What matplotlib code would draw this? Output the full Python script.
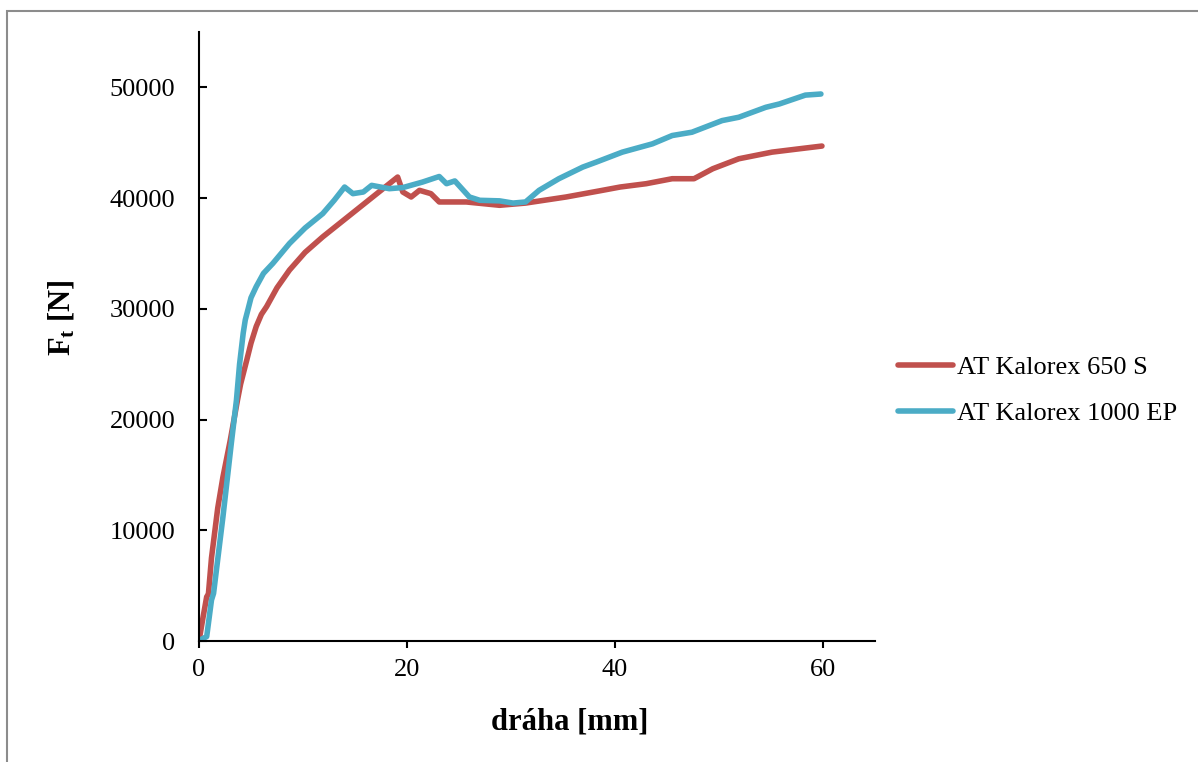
import matplotlib
matplotlib.use("Agg")
import matplotlib.pyplot as plt
from matplotlib.patches import Rectangle

plt.rcParams["font.family"] = ["Liberation Serif", "DejaVu Serif"]
plt.rcParams["mathtext.fontset"] = "custom"
plt.rcParams["mathtext.rm"] = "Liberation Serif"
plt.rcParams["mathtext.bf"] = "Liberation Serif:bold"
plt.rcParams["mathtext.it"] = "Liberation Serif:italic"

# Tensile force vs. travel for two belt types
x_650s = [0, 0.1, 0.4, 0.74, 0.9, 1.2, 1.8, 2.3, 3.0, 3.7, 4.0, 4.6, 5.0,
          5.5, 6.0, 6.5, 7.5, 8.7, 10.2, 11.9, 13.5, 15.1, 18.3, 19.1, 19.6,
          20.4, 21.2, 22.3, 23.1, 25.7, 28.9, 31.4, 35.3, 38.5, 40.5, 43.0,
          45.5, 47.6, 49.4, 51.9, 55.1, 57.7, 59.9]
f_650s = [0, 540, 2200, 4000, 4200, 7500, 12000, 14800, 18100, 21750, 23200,
          25400, 26900, 28400, 29500, 30200, 31900, 33500, 35100, 36500, 37700,
          38900, 41300, 41900, 40550, 40100, 40700, 40400, 39650, 39650, 39350,
          39550, 40100, 40650, 41000, 41300, 41750, 41750, 42650, 43550, 44150,
          44450, 44700]

x_1000ep = [0, 0.1, 0.74, 1.2, 1.4, 2.3, 3.1, 3.6, 3.9, 4.25, 4.45, 4.7, 5.0,
            5.5, 6.2, 7.1, 8.7, 10.2, 11.9, 13.0, 14.0, 14.8, 15.8, 16.6,
            18.3, 19.6, 21.5, 23.1, 23.8, 24.6, 26.0, 27.0, 28.9, 30.2, 31.4,
            32.7, 34.6, 36.9, 38.2, 40.7, 43.6, 45.5, 47.4, 50.3, 51.9, 54.5,
            55.8, 58.3, 59.8]
f_1000ep = [0, 90, 400, 3700, 4300, 11200, 17800, 21750, 25000, 27800, 29000,
            29900, 31000, 32000, 33200, 34100, 35900, 37300, 38600, 39800,
            41000, 40400, 40550, 41150, 40850, 40950, 41450, 41950, 41300,
            41550, 40100, 39800, 39750, 39550, 39650, 40700, 41750, 42800,
            43250, 44150, 44900, 45650, 45950, 47000, 47300, 48200, 48500,
            49300, 49400]

labels = ["AT Kalorex 650 S", "AT Kalorex 1000 EP"]
colors = ["#C0504D", "#4BACC6"]
x_ticks = [0, 20, 40, 60]
y_ticks = [0, 10000, 20000, 30000, 40000, 50000]

fig = plt.figure(figsize=(11.98, 7.62), dpi=100)
ax = fig.add_axes([199 / 1198, 121 / 762, 676 / 1198, 609 / 762])

ax.plot(x_650s, f_650s, color=colors[0], lw=4, solid_capstyle="round",
        solid_joinstyle="round", label=labels[0])
ax.plot(x_1000ep, f_1000ep, color=colors[1], lw=4, solid_capstyle="round",
        solid_joinstyle="round", label=labels[1])

ax.set_xlim(0, 65)
ax.set_ylim(0, 55000)
ax.set_xticks(x_ticks)
ax.set_yticks(y_ticks)
ax.spines["top"].set_visible(False)
ax.spines["right"].set_visible(False)
for s in ("left", "bottom"):
    ax.spines[s].set_linewidth(1.5)
ax.tick_params(axis="y", direction="in", length=6, width=1.5, pad=17,
               labelsize=19)
ax.tick_params(axis="x", direction="out", length=5, width=1.5, pad=8,
               labelsize=19)

fig.text(570 / 1198, 0.052, "dráha [mm]", ha="center", va="center",
         fontsize=22, fontweight="bold")
fig.text(61 / 1198, (762 - 318) / 762, r"$\mathbf{F_t}$ [N]", ha="center",
         va="center", rotation=90, fontsize=22, fontweight="bold")

fig.legend(loc="center left", bbox_to_anchor=(898 / 1198, 0.488),
           bbox_transform=fig.transFigure, frameon=False, fontsize=19,
           handlelength=2.1, handletextpad=0.15, labelspacing=0.85,
           borderpad=0, borderaxespad=0)

fig.patches.append(Rectangle((7 / 1198, -0.05), 1.2, 751 / 762 + 0.05,
                             transform=fig.transFigure, fill=False,
                             edgecolor="#8c8c8c", lw=1.5))

fig.savefig("out.png", dpi=100)
